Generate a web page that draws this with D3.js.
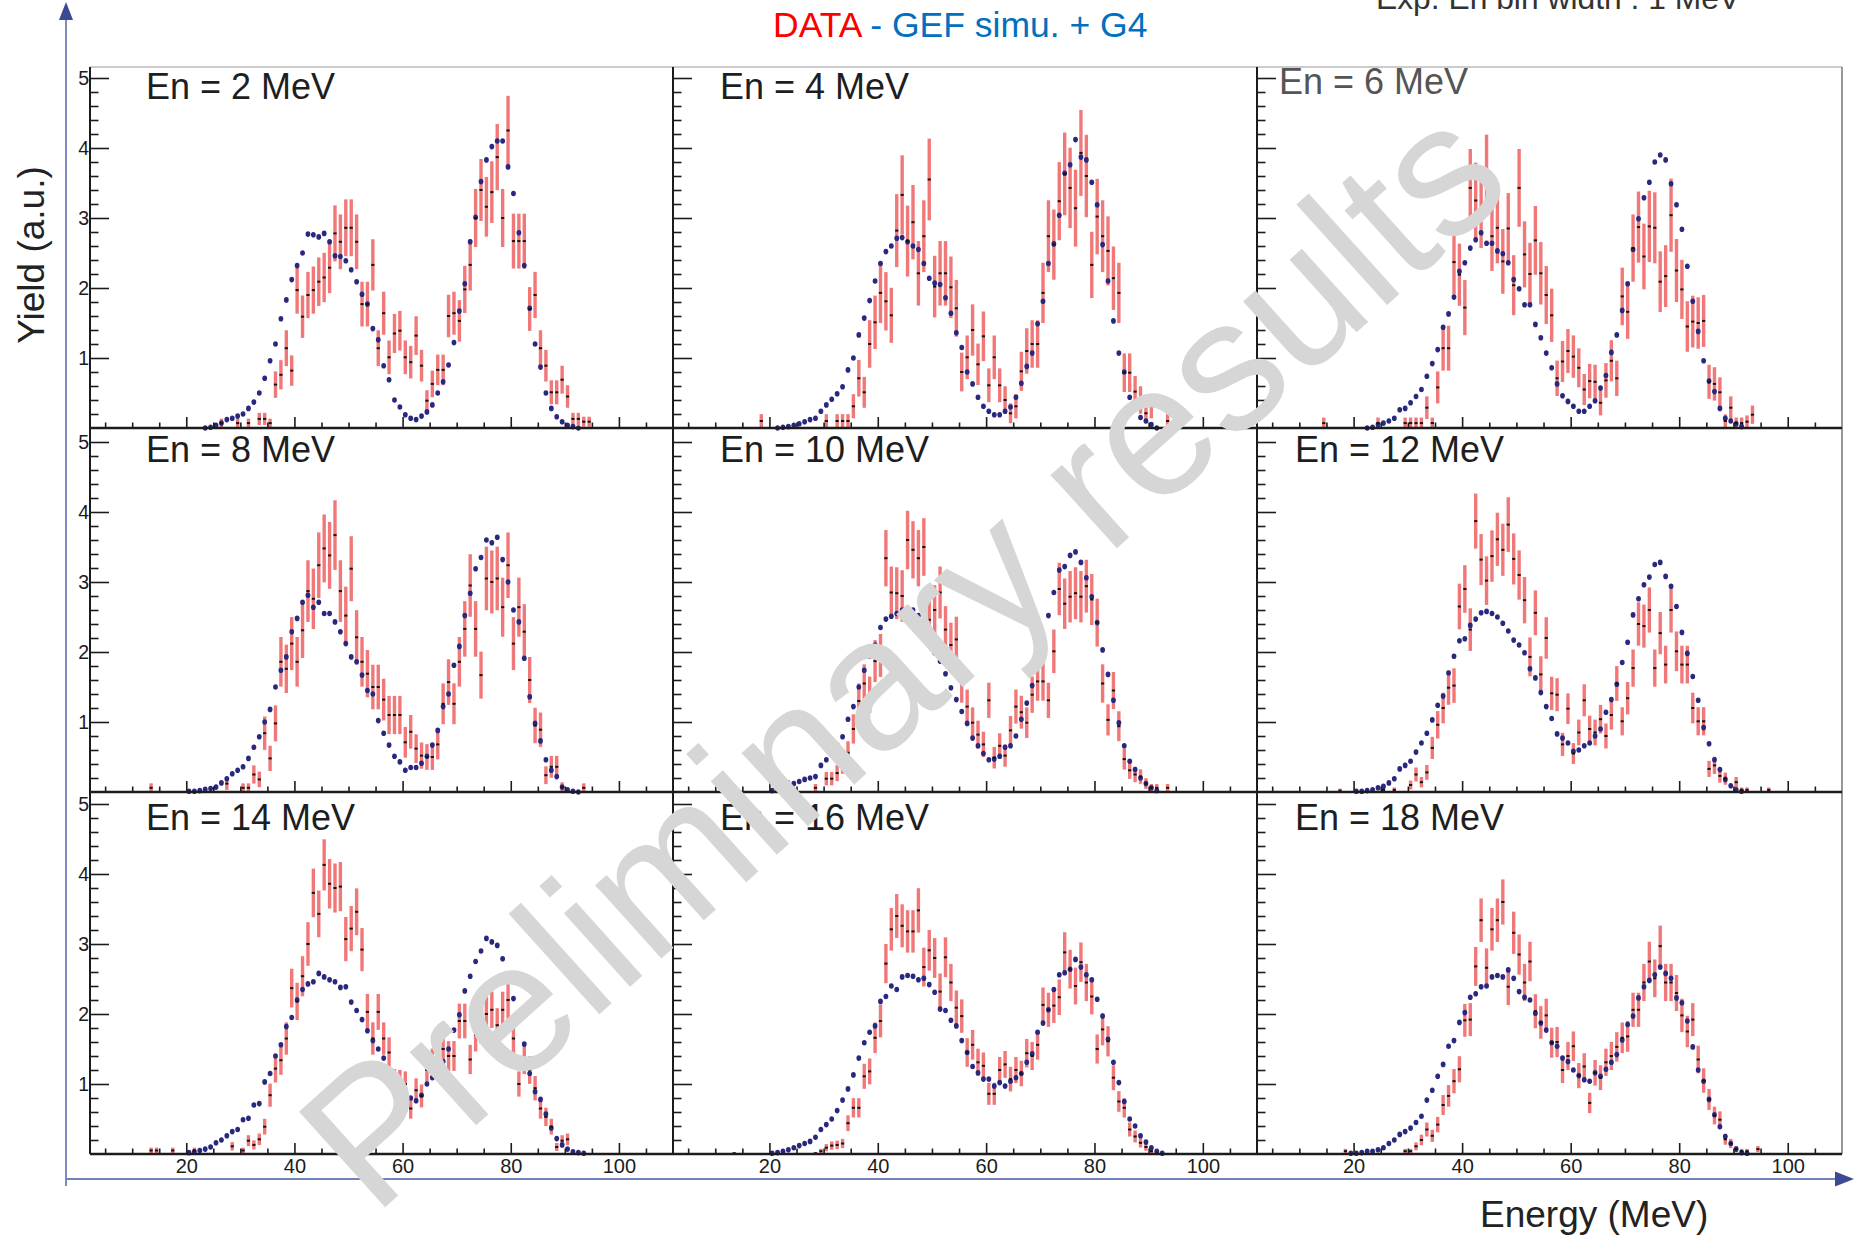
<!DOCTYPE html>
<html>
<head>
<meta charset="utf-8">
<script src="https://cdn.jsdelivr.net/npm/d3@7"></script>
<style>
  html, body { margin: 0; padding: 0; background: #ffffff; }
  svg { display: block; font-family: "Liberation Sans", Arial, Helvetica, sans-serif; }
</style>
</head>
<body>
<svg id="chart" width="1860" height="1236"></svg>
<script>
// Neutron energies of the nine panels (MeV)
const energies = [2, 4, 6, 8, 10, 12, 14, 16, 18];

// Tick labels
const xTickLabels = [20, 40, 60, 80, 100];
const yTickLabels = [1, 2, 3, 4, 5];

// GEF + Geant4 simulation, 1 MeV bins; first bin centre per panel
const simStart = [23.5, 21.5, 22.5, 20.5, 20.5, 20.5, 20.5, 20.5, 19.5];
const sim_En2 = [0, 0.01, 0.04, 0.07, 0.12, 0.14, 0.17, 0.2, 0.28, 0.37, 0.5, 0.71, 0.96, 1.2, 1.56, 1.83, 2.12, 2.32, 2.5, 2.77, 2.76, 2.73, 2.78, 2.66, 2.46, 2.45, 2.39, 2.26, 2.09, 1.91, 1.77, 1.42, 1.26, 0.89, 0.69, 0.4, 0.3, 0.19, 0.14, 0.12, 0.17, 0.23, 0.33, 0.5, 0.66, 0.9, 1.22, 1.67, 2.06, 2.66, 3.01, 3.52, 3.83, 4.02, 4.1, 4.1, 3.73, 3.35, 2.79, 2.32, 1.71, 1.2, 0.87, 0.5, 0.28, 0.16, 0.09, 0.04, 0.02, 0];
const sim_En4 = [0, 0.01, 0.02, 0.04, 0.06, 0.09, 0.12, 0.14, 0.24, 0.33, 0.41, 0.49, 0.59, 0.83, 1.0, 1.33, 1.57, 1.82, 2.1, 2.35, 2.52, 2.6, 2.71, 2.72, 2.66, 2.6, 2.55, 2.35, 2.14, 2.07, 2.05, 1.86, 1.64, 1.36, 1.15, 0.8, 0.63, 0.44, 0.31, 0.24, 0.19, 0.19, 0.24, 0.3, 0.44, 0.64, 0.88, 1.07, 1.49, 1.81, 2.35, 2.63, 3.04, 3.64, 3.76, 4.12, 3.87, 3.83, 3.51, 3.19, 2.62, 2.1, 1.53, 1.07, 0.8, 0.44, 0.28, 0.15, 0.1, 0.05, 0];
const sim_En6 = [0, 0.01, 0.05, 0.07, 0.1, 0.14, 0.26, 0.28, 0.36, 0.45, 0.55, 0.74, 0.92, 1.12, 1.44, 1.63, 1.87, 2.24, 2.36, 2.57, 2.69, 2.79, 2.64, 2.64, 2.53, 2.49, 2.36, 2.12, 1.99, 1.76, 1.76, 1.48, 1.29, 1.07, 0.86, 0.63, 0.46, 0.38, 0.31, 0.24, 0.24, 0.31, 0.39, 0.57, 0.75, 1.08, 1.33, 1.68, 2.06, 2.55, 2.99, 3.29, 3.51, 3.8, 3.9, 3.83, 3.49, 3.19, 2.84, 2.31, 1.81, 1.38, 0.96, 0.67, 0.52, 0.28, 0.14, 0.1, 0.06, 0.02];
const sim_En8 = [0.01, 0.01, 0.02, 0.04, 0.05, 0.07, 0.13, 0.19, 0.26, 0.31, 0.36, 0.48, 0.64, 0.79, 1.0, 1.18, 1.5, 1.74, 1.93, 2.29, 2.48, 2.71, 2.81, 2.64, 2.71, 2.55, 2.55, 2.43, 2.29, 2.12, 1.93, 1.86, 1.67, 1.45, 1.4, 1.02, 0.84, 0.67, 0.51, 0.43, 0.31, 0.35, 0.35, 0.41, 0.51, 0.67, 0.88, 1.22, 1.4, 1.81, 2.08, 2.52, 2.84, 3.19, 3.35, 3.6, 3.56, 3.64, 3.32, 3.0, 2.6, 2.43, 1.91, 1.36, 0.98, 0.73, 0.46, 0.31, 0.22, 0.07, 0.03, 0.01, 0];
const sim_En10 = [0.02, 0.04, 0.07, 0.1, 0.12, 0.15, 0.18, 0.2, 0.22, 0.38, 0.46, 0.53, 0.67, 0.79, 1.04, 1.22, 1.5, 1.74, 1.94, 2.1, 2.35, 2.47, 2.51, 2.55, 2.6, 2.62, 2.6, 2.52, 2.4, 2.2, 1.99, 1.87, 1.69, 1.49, 1.32, 1.15, 0.98, 0.77, 0.66, 0.55, 0.46, 0.47, 0.51, 0.64, 0.66, 0.8, 1.04, 1.27, 1.52, 1.87, 2.18, 2.52, 2.85, 3.17, 3.22, 3.38, 3.43, 3.28, 3.06, 2.79, 2.42, 2.03, 1.68, 1.31, 0.99, 0.66, 0.44, 0.32, 0.2, 0.12, 0.06, 0.02];
const sim_En12 = [0.01, 0.01, 0.02, 0.03, 0.06, 0.08, 0.13, 0.19, 0.33, 0.38, 0.44, 0.57, 0.7, 0.84, 1.03, 1.24, 1.37, 1.7, 1.94, 2.16, 2.19, 2.38, 2.47, 2.56, 2.58, 2.55, 2.5, 2.41, 2.3, 2.17, 2.1, 1.99, 1.76, 1.63, 1.42, 1.22, 1.05, 0.83, 0.77, 0.7, 0.58, 0.6, 0.66, 0.7, 0.8, 0.9, 1.14, 1.32, 1.54, 1.85, 2.14, 2.53, 2.76, 2.96, 3.07, 3.25, 3.28, 3.08, 2.94, 2.65, 2.28, 1.98, 1.65, 1.31, 0.92, 0.69, 0.46, 0.32, 0.18, 0.09, 0.03, 0.01];
const sim_En14 = [0.02, 0.03, 0.05, 0.07, 0.1, 0.16, 0.2, 0.26, 0.32, 0.35, 0.49, 0.51, 0.7, 0.72, 1.03, 1.15, 1.4, 1.56, 1.82, 1.95, 2.2, 2.35, 2.43, 2.46, 2.58, 2.53, 2.49, 2.46, 2.38, 2.39, 2.17, 2.05, 1.92, 1.76, 1.62, 1.5, 1.37, 1.11, 0.96, 0.89, 0.83, 0.8, 0.76, 0.84, 1.0, 1.09, 1.14, 1.32, 1.5, 1.77, 1.99, 2.33, 2.54, 2.75, 2.9, 3.08, 3.03, 2.98, 2.79, 2.53, 2.22, 1.96, 1.57, 1.15, 0.89, 0.78, 0.57, 0.37, 0.22, 0.13, 0.07, 0.03, 0.02, 0.01];
const sim_En16 = [0.01, 0.02, 0.04, 0.06, 0.09, 0.12, 0.15, 0.18, 0.24, 0.35, 0.42, 0.5, 0.62, 0.77, 0.93, 1.13, 1.37, 1.59, 1.74, 1.83, 2.18, 2.25, 2.4, 2.35, 2.53, 2.55, 2.54, 2.49, 2.51, 2.42, 2.31, 2.07, 2.05, 1.91, 1.83, 1.62, 1.45, 1.25, 1.16, 1.07, 1.07, 0.97, 1.02, 0.97, 1.04, 1.09, 1.15, 1.31, 1.43, 1.74, 1.87, 2.06, 2.35, 2.56, 2.59, 2.64, 2.78, 2.67, 2.56, 2.49, 2.21, 1.97, 1.64, 1.31, 1.02, 0.75, 0.5, 0.4, 0.26, 0.17, 0.09, 0.04, 0.01];
const sim_En18 = [0.01, 0.01, 0.02, 0.04, 0.04, 0.06, 0.09, 0.15, 0.2, 0.28, 0.32, 0.37, 0.45, 0.54, 0.77, 0.91, 1.11, 1.28, 1.54, 1.62, 1.88, 2.02, 2.24, 2.29, 2.39, 2.4, 2.53, 2.55, 2.53, 2.63, 2.51, 2.32, 2.24, 2.2, 2.01, 1.87, 1.77, 1.59, 1.54, 1.37, 1.32, 1.2, 1.12, 1.06, 1.04, 1.16, 1.11, 1.21, 1.31, 1.42, 1.63, 1.85, 1.97, 2.23, 2.39, 2.48, 2.56, 2.67, 2.58, 2.51, 2.23, 2.16, 1.9, 1.53, 1.2, 1.04, 0.78, 0.56, 0.39, 0.25, 0.15, 0.07, 0.02, 0.01];

// Measured yields, 1 MeV bins (null = empty bin); first bin centre per panel
const dataStart = [26.5, 18.5, 14.5, 13.5, 13.5, 17.5, 13.5, 13.5, 18.5];
const data_En2 = [0.07, null, null, 0.07, null, 0.07, null, 0.13, 0.13, 0.07, 0.62, 0.76, 1.14, 0.82, 1.97, 1.59, 1.9, 1.97, 2.09, 2.15, 2.29, 2.78, 2.66, 2.86, 2.86, 2.66, 1.77, 1.77, 2.33, 1.14, 1.64, 1.01, 1.35, 1.39, 1.01, 0.94, 1.32, 0.89, 0.39, 0.63, 0.83, 0.83, 1.6, 1.64, 1.53, 1.98, 2.33, 3.0, 3.4, 3.16, 3.37, 3.87, 3.0, 4.25, 2.67, 2.67, 2.67, 1.7, 1.9, 1.14, 0.89, 0.51, 0.51, 0.69, 0.45, 0.13, 0.13, 0.09, 0.09];
const data_En4 = [0.1, null, null, null, null, null, null, null, null, null, null, null, 0.1, null, 0.1, 0.1, 0.1, 0.31, 0.71, 0.51, 1.2, 1.51, 1.93, 1.81, 1.61, 2.82, 3.33, 2.67, 2.94, 2.21, 2.74, 3.55, 2.02, 2.21, 2.21, 2.01, 1.71, 0.8, 1.01, 1.4, 0.91, 1.31, 0.61, 1.01, 0.61, 0.4, 0.21, 0.31, 0.81, 1.1, 1.2, 1.2, 1.93, 2.74, 2.62, 3.24, 3.63, 3.43, 3.14, 3.93, 3.6, 2.33, 3.02, 2.74, 2.53, 2.14, 1.93, 0.79, 0.79, 0.52, 0.4, 0.21, 0.31, null, null, 0.1];
const data_En6 = [0.07, null, null, null, null, null, null, null, null, null, 0.07, null, null, null, null, 0.07, 0.07, 0.07, 0.07, 0.29, 0.07, 0.58, 1.14, 1.14, 2.37, 2.19, 1.72, 3.43, 3.25, 3.1, 3.62, 2.74, 2.86, 2.38, 2.85, 2.04, 3.43, 2.48, 2.2, 2.68, 2.21, 1.9, 1.61, 0.71, 0.95, 1.1, 1.02, 0.86, 0.55, 0.67, 0.66, 0.36, 0.68, 0.96, 0.71, 1.88, 1.66, 2.57, 2.87, 2.45, 2.88, 2.86, 2.09, 2.17, 3.04, 2.25, 1.98, 1.45, 1.52, 1.5, 1.53, 0.66, 0.63, 0.51, 0.1, 0.29, 0.07, 0.07, 0.09, 0.19];
const data_En8 = [0.06, null, null, null, null, null, null, null, null, null, null, null, null, null, 0.12, null, null, 0.06, 0.06, 0.25, 0.18, 0.84, 0.48, 0.98, 1.86, 1.76, 2.12, 1.86, 2.31, 2.87, 2.76, 3.24, 3.48, 3.38, 3.67, 2.87, 2.52, 3.19, 2.21, 1.86, 1.69, 1.5, 1.5, 1.32, 1.1, 1.1, 1.1, 0.71, 0.86, 0.62, 0.52, 0.5, 0.5, 0.68, 1.26, 1.57, 1.26, 1.86, 2.33, 2.95, 2.33, 1.67, 3.05, 3.0, 3.05, 2.64, 3.24, 2.12, 2.64, 2.29, 1.6, 0.95, 0.89, 0.24, 0.36, 0.36, 0.07, null, null, null, 0.06];
const data_En10 = [0.03, null, null, null, null, null, null, null, null, null, 0.1, null, null, null, null, 0.06, null, 0.19, 0.19, 0.27, 0.4, 0.56, 0.9, 1.3, 1.55, 1.39, 1.87, 1.95, 3.34, 2.85, 2.84, 2.8, 3.6, 3.46, 3.34, 3.5, 2.46, 2.6, 2.85, 2.32, 2.1, 2.18, 1.55, 1.22, 0.99, 0.82, 0.68, 1.31, 0.49, 0.66, 0.52, 0.88, 1.22, 1.14, 0.99, 1.39, 1.58, 1.58, 1.31, 2.01, 2.9, 2.69, 2.79, 2.84, 2.79, 2.94, 2.75, 2.42, 1.55, 1.03, 1.45, 0.94, 0.47, 0.31, 0.25, 0.22, 0.12, 0.06, 0.06, null, 0.06];
const data_En12 = [0.02, null, null, null, null, null, null, null, 0.03, null, 0.03, null, null, 0.1, 0.25, 0.14, 0.28, 0.63, 0.96, 1.2, 1.49, 1.52, 2.65, 2.9, 2.32, 3.87, 3.32, 3.02, 3.37, 3.61, 3.46, 3.82, 3.33, 3.1, 2.74, 1.93, 2.56, 1.68, 2.2, 1.41, 1.39, 0.68, 1.19, 0.55, 0.85, 1.31, 0.9, 0.85, 1.04, 0.8, 1.1, 1.55, 1.01, 1.34, 1.77, 2.4, 2.37, 2.6, 1.77, 2.27, 1.82, 2.6, 2.01, 1.82, 1.82, 1.2, 1.01, 1.01, 0.33, 0.38, 0.23, 0.19, null, 0.14, 0.03, 0.03, null, null, null, 0.03];
const data_En14 = [0.05, 0.05, null, null, 0.05, null, null, null, 0.05, null, null, null, null, null, null, 0.11, null, 0.05, 0.19, 0.13, 0.21, 0.39, 0.84, 1.22, 1.34, 1.65, 2.37, 2.18, 2.54, 3.0, 3.73, 3.43, 4.13, 3.86, 3.8, 3.82, 3.07, 3.22, 3.46, 2.92, 2.03, 1.65, 2.03, 1.65, 1.45, 1.03, 1.02, 1.0, 0.65, 0.91, 0.83, 1.2, 1.3, 1.35, 1.5, 1.4, 1.4, 1.9, 1.9, 1.35, 1.7, 1.82, 2.0, 2.06, 1.84, 2.06, 2.2, 1.65, 1.0, 1.35, 1.2, 0.94, 0.65, 0.53, 0.39, 0.1, 0.19, 0.21];
const data_En16 = [0.01, null, null, null, null, null, null, null, null, null, null, null, null, null, null, 0.01, 0.04, 0.09, 0.12, 0.13, 0.15, 0.44, 0.66, 0.66, 1.11, 1.18, 1.66, 1.9, 2.72, 3.21, 3.4, 3.26, 3.18, 3.18, 3.48, 2.67, 2.91, 2.8, 2.32, 2.81, 2.45, 2.09, 1.97, 1.45, 1.56, 1.31, 1.26, 0.86, 0.86, 1.2, 1.28, 1.07, 1.2, 1.15, 1.44, 1.4, 1.56, 2.13, 2.06, 2.12, 2.24, 2.88, 2.64, 2.4, 2.74, 2.45, 2.25, 1.5, 1.78, 1.61, 1.09, 0.75, 0.66, 0.35, 0.25, 0.16, 0.1, 0.04, 0.01];
const data_En18 = [0.04, null, null, null, null, null, null, null, null, null, null, 0.04, 0.04, 0.11, 0.2, 0.35, 0.26, 0.42, 0.7, 0.83, 1.04, 1.21, 1.91, 1.92, 2.68, 3.34, 2.66, 3.21, 3.34, 3.6, 2.39, 3.16, 2.85, 2.45, 2.75, 2.04, 1.88, 1.98, 1.59, 1.6, 1.2, 1.4, 1.54, 1.12, 1.25, 0.73, 1.16, 1.09, 1.31, 1.4, 1.53, 1.66, 1.68, 2.06, 2.06, 2.45, 2.75, 2.51, 2.97, 2.45, 2.45, 2.3, 1.98, 1.75, 1.92, 1.35, 1.05, 0.78, 0.55, 0.49, 0.21, 0.15, 0.07, 0.04, 0.04, null, 0.07];

// Statistical (Poisson) error scale per panel: sigma = scale * sqrt(yield)
const statScale = [0.24, 0.31, 0.30, 0.26, 0.22, 0.20, 0.18, 0.17, 0.17];

const simSeries = [sim_En2, sim_En4, sim_En6, sim_En8, sim_En10, sim_En12, sim_En14, sim_En16, sim_En18];
const dataSeries = [data_En2, data_En4, data_En6, data_En8, data_En10, data_En12, data_En14, data_En16, data_En18];

// ---------- layout ----------
const colX = [90, 673, 1257, 1842];
const rowY = [67, 428, 792, 1154];
const pxPerUnit = 70;
const xDomain = [2.2, 110];
const labelPos = [
  [146, 99], [720, 99], [1279, 94],
  [146, 462], [720, 462], [1295, 462],
  [146, 830], [720, 830], [1295, 830]
];

const svg = d3.select("#chart");
const ink = "#1c1c1c";

// outer axis arrows
const arrowColor = "#3c4a94";
svg.append("line").attr("x1", 66).attr("y1", 1186).attr("x2", 66).attr("y2", 16)
  .attr("stroke", "#4a58a0").attr("stroke-width", 1.4);
svg.append("path").attr("d", "M66,2 L59,20 L73,20 Z").attr("fill", arrowColor);
svg.append("line").attr("x1", 66).attr("y1", 1179).attr("x2", 1838).attr("y2", 1179)
  .attr("stroke", "#7482bb").attr("stroke-width", 2);
svg.append("path").attr("d", "M1854,1179 L1835,1171.5 L1835,1186.5 Z").attr("fill", arrowColor);

// top frame line of the first row and right border
svg.append("line").attr("x1", colX[0]).attr("x2", colX[3]).attr("y1", rowY[0]).attr("y2", rowY[0])
  .attr("stroke", "#9a9a9a").attr("stroke-width", 1.2);
svg.append("line").attr("x1", colX[3]).attr("x2", colX[3]).attr("y1", rowY[0]).attr("y2", rowY[3])
  .attr("stroke", "#555").attr("stroke-width", 1.2);

const xMinor = d3.range(5, 110, 5).filter(v => v % 20 !== 0);
const yMinor = d3.range(1, 26).map(i => i / 5).filter(v => Math.abs(v - Math.round(v)) > 1e-6);

energies.forEach((en, i) => {
  const c = i % 3, r = Math.floor(i / 3);
  const left = colX[c], right = colX[c + 1];
  const top = rowY[r], bottom = rowY[r + 1];
  const x = d3.scaleLinear().domain(xDomain).range([left, right]);
  const yMax = (bottom - top) / pxPerUnit;
  const y = d3.scaleLinear().domain([0, yMax]).range([bottom, top]);
  const g = svg.append("g").attr("class", "panel");

  const sim = simSeries[i].map((v, k) => ({ e: simStart[i] + k, v }));
  const dat = dataSeries[i].map((v, k) => ({ e: dataStart[i] + k, v })).filter(d => d.v !== null);
  const s = statScale[i];

  // data error bars
  g.append("g").selectAll("line").data(dat).join("line")
    .attr("x1", d => x(d.e)).attr("x2", d => x(d.e))
    .attr("y1", d => y(Math.max(0, d.v - s * Math.sqrt(d.v))))
    .attr("y2", d => y(d.v + s * Math.sqrt(d.v)))
    .attr("stroke", "#f06c6c").attr("stroke-opacity", 0.92).attr("stroke-width", 3.4);

  // simulation markers
  g.append("g").selectAll("ellipse").data(sim).join("ellipse")
    .attr("cx", d => x(d.e)).attr("cy", d => y(d.v))
    .attr("rx", 2.4).attr("ry", 2.8)
    .attr("fill", "#28287e");

  // data central values
  g.append("g").selectAll("rect").data(dat).join("rect")
    .attr("x", d => x(d.e) - 1.6).attr("y", d => y(d.v) - 1)
    .attr("width", 3.2).attr("height", 2)
    .attr("fill", "#151515");

  // left axis: ticks pointing into the panel
  const yMajor = d3.axisRight(y).tickValues(yTickLabels).tickSize(19).tickFormat("");
  const yMin = d3.axisRight(y).tickValues(yMinor).tickSize(8.5).tickFormat("");
  [yMajor, yMin].forEach(ax => {
    const a = g.append("g").attr("transform", `translate(${left},0)`).call(ax);
    a.select(".domain").remove();
    a.selectAll("line").attr("stroke", ink).attr("stroke-width", 1.6);
  });
  // bottom axis: ticks pointing up
  const xMaj = d3.axisTop(x).tickValues(xTickLabels).tickSize(11).tickFormat("");
  const xMin = d3.axisTop(x).tickValues(xMinor).tickSize(5.5).tickFormat("");
  [xMaj, xMin].forEach(ax => {
    const a = g.append("g").attr("transform", `translate(0,${bottom})`).call(ax);
    a.select(".domain").remove();
    a.selectAll("line").attr("stroke", ink).attr("stroke-width", 1.6);
  });

  // frame lines
  g.append("line").attr("x1", left).attr("x2", left).attr("y1", top).attr("y2", bottom)
    .attr("stroke", ink).attr("stroke-width", 2);
  g.append("line").attr("x1", left).attr("x2", right).attr("y1", bottom).attr("y2", bottom)
    .attr("stroke", ink).attr("stroke-width", 2.4);

  // tick labels
  if (c === 0) {
    const a = g.append("g").attr("transform", `translate(${left},0)`)
      .call(d3.axisLeft(y).tickValues(yTickLabels).tickSize(0).tickPadding(1).tickFormat(d3.format("d")));
    a.select(".domain").remove();
    a.selectAll("text").attr("font-size", 19.5).attr("fill", ink)
      .attr("font-family", "'Liberation Sans', Arial, sans-serif");
  }
  if (r === 2) {
    const a = g.append("g").attr("transform", `translate(0,${bottom})`)
      .call(d3.axisBottom(x).tickValues(xTickLabels).tickSize(0).tickPadding(5).tickFormat(d3.format("d")));
    a.select(".domain").remove();
    a.selectAll("text").attr("font-size", 20).attr("fill", ink)
      .attr("font-family", "'Liberation Sans', Arial, sans-serif");
  }

  // panel label
  g.append("text").attr("x", labelPos[i][0]).attr("y", labelPos[i][1])
    .attr("font-size", 36).attr("fill", i === 2 ? "#555555" : "#1e1e1e")
    .text(`En = ${en} MeV`);
});

// titles
const title = svg.append("text").attr("x", 773).attr("y", 37).attr("font-size", 35.5)
  .style("white-space", "pre");
title.append("tspan").attr("fill", "#ff0000").text("DATA");
title.append("tspan").attr("fill", "#0070c0").text(" - GEF simu. + G4");

svg.append("text").attr("x", 1376).attr("y", 9).attr("font-size", 31.8).attr("fill", "#333333")
  .text("Exp. En bin width : 1 MeV");

svg.append("text").attr("transform", "translate(44,255) rotate(-90)")
  .attr("text-anchor", "middle").attr("font-size", 37).attr("fill", "#222222")
  .text("Yield (a.u.)");

svg.append("text").attr("x", 1480).attr("y", 1227).attr("font-size", 37).attr("fill", "#222222")
  .text("Energy (MeV)");

// watermark
svg.append("text").attr("transform", "translate(902,655) rotate(-42)")
  .attr("text-anchor", "middle").attr("dominant-baseline", "central")
  .attr("font-size", 187).attr("fill", "#d6d6d6")
  .text("Preliminary results");
</script>
</body>
</html>
